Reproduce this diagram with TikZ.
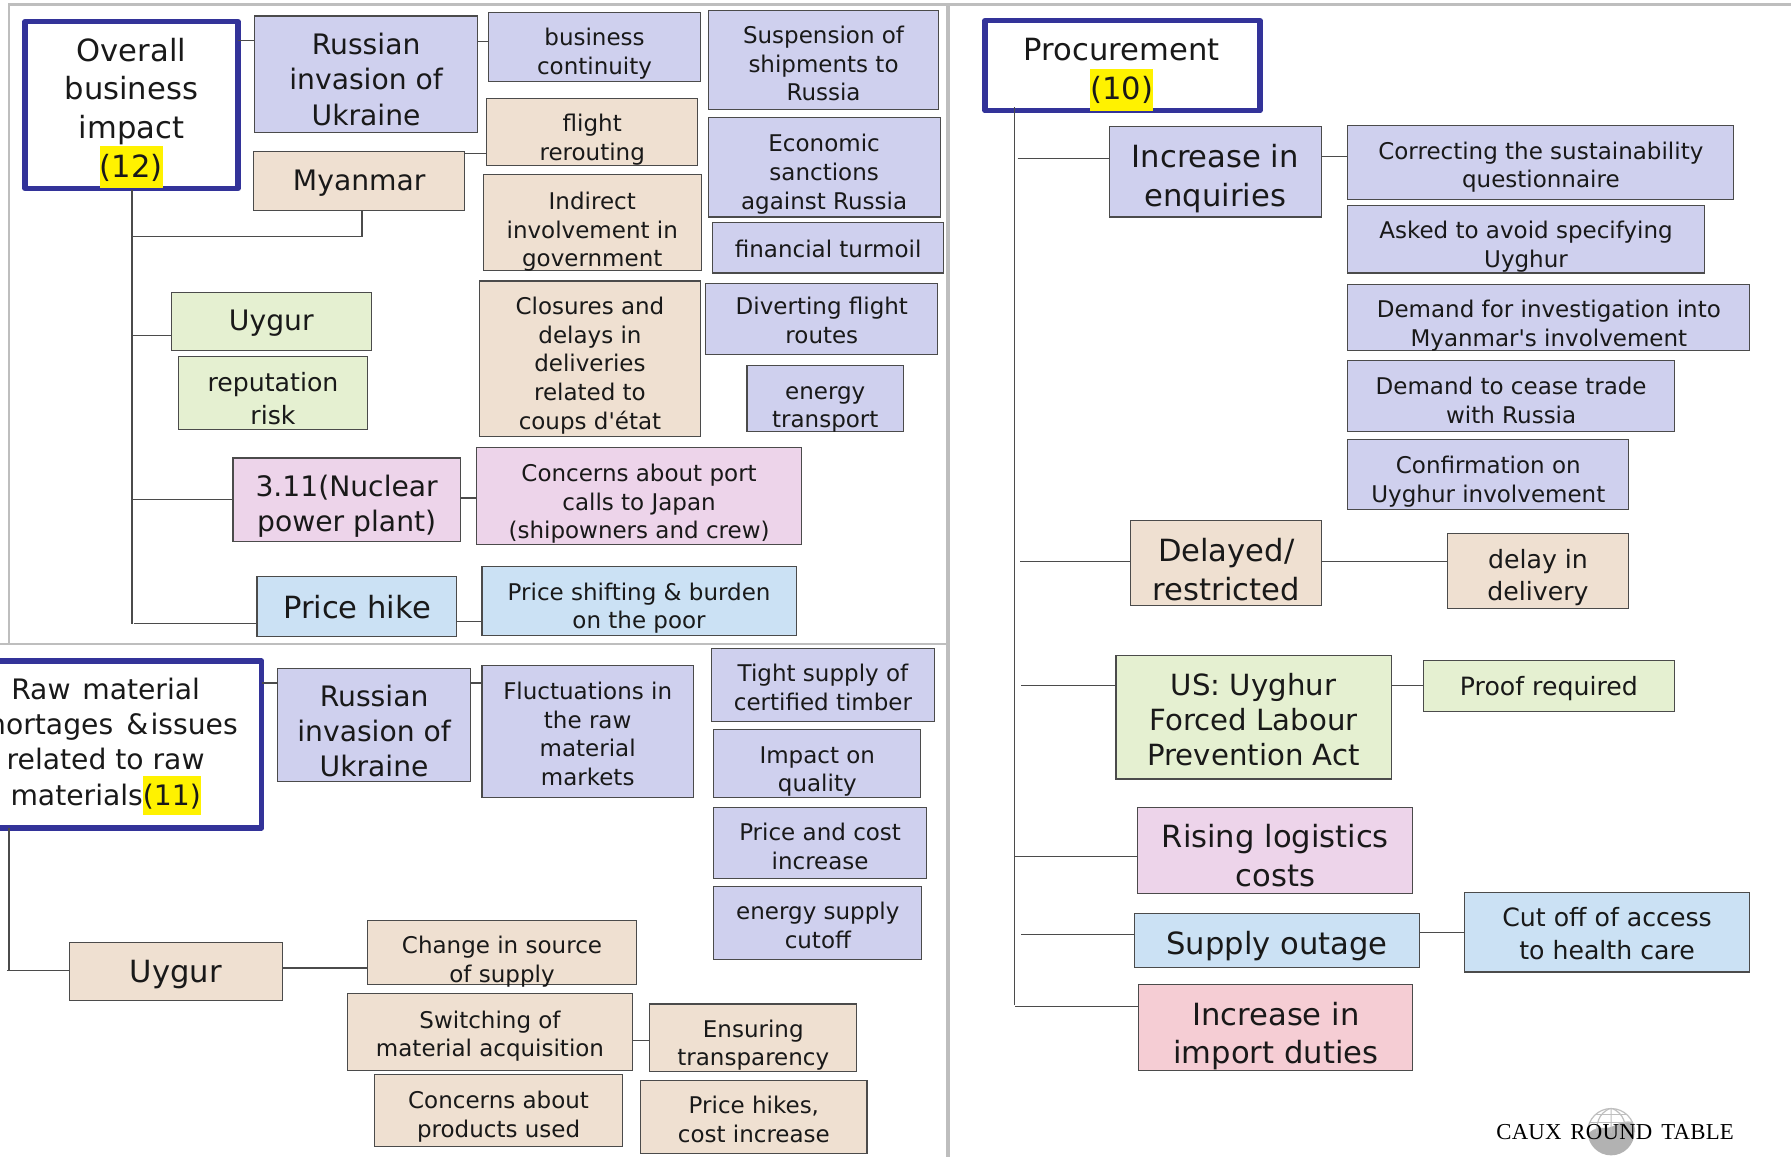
\documentclass[tikz,border=0pt]{standalone}
\usepackage{fontspec}
\setmainfont{DejaVu Sans}
\newfontfamily\logofont[LetterSpace=1,WordSpace=1.5]{Liberation Serif}
\usetikzlibrary{calc}
\definecolor{lav}{RGB}{207,208,238}
\definecolor{bei}{RGB}{239,224,209}
\definecolor{grn}{RGB}{229,240,209}
\definecolor{pnk}{RGB}{237,212,234}
\definecolor{blu}{RGB}{203,225,244}
\definecolor{red}{RGB}{245,205,212}
\definecolor{frm}{RGB}{51,51,153}
\definecolor{pan}{RGB}{190,190,190}
\definecolor{lin}{RGB}{75,75,75}
\newcommand{\mystrut}{\rule[-.25em]{0pt}{1.2em}}
\newcommand{\hl}[1]{{\setlength{\fboxsep}{0pt}\smash{\colorbox{yellow}{\rule[-.36em]{0pt}{1.38em}#1}}}}
\tikzset{
  x=0.5711pt,y=-0.5711pt,
  boxst/.style={draw=lin,line width=0.55pt,inner sep=0pt,outer sep=0pt},
  rootst/.style={draw=frm,line width=2.7pt,line join=round,inner sep=0pt,outer sep=0pt,fill=white},
  txt/.style={align=center,inner sep=0pt,text=black!90},
  link/.style={draw=lin,line width=0.6pt},
  panel/.style={draw=pan,line width=1.2pt},
  fs/.style={font=\fontsize{11.5pt}{14.3pt}\selectfont},
  fr/.style={font=\fontsize{12.6pt}{16.2pt}\selectfont},
  fm/.style={font=\fontsize{14.1pt}{17.6pt}\selectfont},
  fu/.style={font=\fontsize{14.6pt}{17.4pt}\selectfont},
  fl/.style={font=\fontsize{15.3pt}{19.4pt}\selectfont},
}
% name,x1,y1,x2,y2,box style,font style,text centre y,text
\newcommand{\mybox}[9]{%
  \node[boxst,#6,minimum width={(#4-#2)*0.5711pt},minimum height={(#5-#3)*0.5711pt}] (#1) at ({(#2+#4)/2},{(#3+#5)/2}) {};
  \node[txt,#7] (#1-t) at ({(#2+#4)/2},#8) {\mystrut #9\mystrut};
}
% horizontal connector between two nodes at height y
\newcommand{\hc}[3]{\draw[link] (#1.east |- 0,#3) -- (#2.west |- 0,#3);}
% branch from a free coordinate to a node
\newcommand{\br}[4]{\coordinate (#1) at (#2,#3); \draw[link] (#1) -- (#4.west |- #1);}
\begin{document}
\begin{tikzpicture}
\useasboundingbox (0,0) rectangle (1568,1013);
\fill[white] (0,0) rectangle (1568,1013);
% panels
\draw[panel] (8,564) -- (8,4) -- (1568,4);
\draw[panel] (0,564) -- (829,564);
\draw[pan,line width=1.7pt] (830,4) -- (830,1013);

% roots
\node[rootst,minimum width={186.5*0.5711pt},minimum height={146*0.5711pt}] (ovr) at (115.2,92) {};
\node[txt,fl] (ovr-t) at (115,95) {\mystrut Overall\\business\\impact\\\hl{(12)}\mystrut};
\node[rootst,minimum width={240*0.5711pt},minimum height={146.3*0.5711pt}] (raw) at (109,651.8) {};
\node[txt,fm] (raw-t) at (92.5,650) {\mystrut Raw\hspace{.1em} material\\shortages\hspace{.15em} \&\hspace{.08em}issues\\related to raw\\materials\hl{(11)}\mystrut};
\node[rootst,minimum width={240.6*0.5711pt},minimum height={79*0.5711pt}] (pro) at (982.7,57.5) {};
\node[txt,fl] (pro-t) at (982,61) {\mystrut Procurement\\\hl{(10)}\mystrut};

% upper left
\mybox{ru1}{223}{14}{418}{116}{fill=lav}{fm}{70}{Russian\\invasion of\\Ukraine}
\mybox{bc}{428}{11}{613}{71}{fill=lav}{fs}{45.5}{business\\continuity}
\mybox{sus}{620}{9}{822}{96}{fill=lav}{fs}{56}{Suspension of\\shipments to\\Russia}
\mybox{fli}{426}{86}{611}{145}{fill=bei}{fs}{121}{flight\\rerouting}
\mybox{mya}{222}{133}{407}{184}{fill=bei}{fm}{158}{Myanmar}
\mybox{eco}{620}{103}{823}{190}{fill=lav}{fs}{151}{Economic\\sanctions\\against Russia}
\mybox{ind}{423}{153}{614}{237}{fill=bei}{fs}{201.5}{Indirect\\involvement in\\government}
\mybox{fin}{624}{195}{826}{239}{fill=lav}{fs}{218}{financial turmoil}
\mybox{clo}{420}{246}{613}{382}{fill=bei}{fs}{318.5}{Closures and\\delays in\\deliveries\\related to\\coups d\textquotesingle état}
\mybox{div}{618}{248}{821}{310}{fill=lav}{fs}{281}{Diverting flight\\routes}
\mybox{ene}{654}{320}{791}{378}{fill=lav}{fs}{355}{energy\\transport}
\mybox{uy1}{150}{256}{325}{307}{fill=grn}{fm}{281}{Uygur}
\mybox{rep}{156}{312}{322}{376}{fill=grn}{fr}{349.5}{reputation\\risk}
\mybox{nuc}{204}{401}{403}{474}{fill=pnk}{fm}{441.5}{3.11(Nuclear\\power plant)}
\mybox{por}{417}{392}{702}{477}{fill=pnk}{fs}{439.5}{Concerns about port\\calls to Japan\\(shipowners and crew)}
\mybox{hik}{225}{505}{400}{557}{fill=blu}{fl}{532}{Price hike}
\mybox{shi}{422}{496}{697}{556}{fill=blu}{fs}{531}{Price shifting \& burden\\on the poor}

% lower left
\mybox{ru2}{243}{585}{412}{684}{fill=lav}{fm}{640.5}{Russian\\invasion of\\Ukraine}
\mybox{flu}{422}{583}{607}{698}{fill=lav}{fs}{643}{Fluctuations in\\the raw\\material\\markets}
\mybox{tig}{623}{568}{818}{632}{fill=lav}{fs}{602.5}{Tight supply of\\certified timber}
\mybox{imp}{625}{639}{806}{698}{fill=lav}{fs}{673.5}{Impact on\\quality}
\mybox{pri}{625}{707}{811}{769}{fill=lav}{fs}{741.5}{Price and cost\\increase}
\mybox{enc}{625}{776}{807}{840}{fill=lav}{fs}{810.5}{energy supply\\cutoff}
\mybox{uy2}{61}{825}{247}{876}{fill=bei}{fl}{851}{Uygur}
\mybox{cha}{322}{806}{557}{862}{fill=bei}{fs}{840.5}{Change in source\\of supply}
\mybox{swi}{304}{870}{554}{937}{fill=bei}{fs}{905.5}{Switching of\\material acquisition}
\mybox{ens}{569}{879}{750}{938}{fill=bei}{fs}{913.5}{Ensuring\\transparency}
\mybox{con}{328}{941}{545}{1004}{fill=bei}{fs}{976}{Concerns about\\products used}
\mybox{phk}{561}{946}{759}{1010}{fill=bei}{fs}{980.5}{Price hikes,\\cost increase}

% right
\mybox{inc}{971}{111}{1157}{190}{fill=lav}{fl}{154}{Increase in\\enquiries}
\mybox{cor}{1180}{110}{1518}{175}{fill=lav}{fs}{145}{Correcting the sustainability\\questionnaire}
\mybox{ask}{1180}{180}{1492}{239}{fill=lav}{fs}{214.5}{Asked to avoid specifying\\Uyghur}
\mybox{dem}{1180}{249}{1532}{307}{fill=lav}{fs}{283.5}{Demand for investigation into\\Myanmar\textquotesingle s involvement}
\mybox{ces}{1180}{316}{1466}{378}{fill=lav}{fs}{351}{Demand to cease trade\\with Russia}
\mybox{cnf}{1180}{385}{1426}{446}{fill=lav}{fs}{420}{Confirmation on\\Uyghur involvement}
\mybox{del}{990}{456}{1157}{530}{fill=bei}{fl}{499}{Delayed/\\restricted}
\mybox{dld}{1267}{467}{1426}{533}{fill=bei}{fr}{504}{delay in\\delivery}
\mybox{usa}{977}{574}{1218}{682}{fill=grn}{fu}{630.5}{US: Uyghur\\Forced Labour\\Prevention Act}
\mybox{prf}{1246}{578}{1466}{623}{fill=grn}{fr}{601}{Proof required}
\mybox{ris}{996}{707}{1237}{782}{fill=pnk}{fl}{750}{Rising logistics\\costs}
\mybox{sup}{993}{800}{1243}{847}{fill=blu}{fl}{826}{Supply outage}
\mybox{cut}{1282}{781}{1532}{851}{fill=blu}{fr}{818}{Cut off of access\\to health care}
\mybox{dut}{997}{862}{1237}{937}{fill=red}{fl}{905}{Increase in\\import duties}

% connectors upper left
\hc{ovr}{ru1}{35.3}
\hc{ru1}{bc}{36}
\hc{mya}{fli}{134.5}
\draw[link] (115.5,166) coordinate (tr1) -- (115.5,546) coordinate (tr1e);
\draw[link] (tr1 |- 0,207) -| (mya.south -| 317,0);
\br{b1}{116}{294}{uy1}
\br{b2}{116}{437.5}{nuc}
\br{b3}{117}{546}{hik}
\hc{nuc}{por}{436}
\hc{hik}{shi}{544}

% connectors lower left
\hc{raw}{ru2}{598}
\hc{ru2}{flu}{598}
\draw[link] (7.9,725) coordinate (tr2) -- (7.9,849.5);
\br{b4}{6}{849.5}{uy2}
\hc{uy2}{cha}{847.5}
\hc{swi}{ens}{911}

% connectors right
\draw[link] (888.3,94) coordinate (tr3) -- (888.3,880);
\br{b5}{891}{139}{inc}
\hc{inc}{cor}{137}
\br{b6}{893}{491.5}{del}
\hc{del}{dld}{491.5}
\br{b7}{894}{600}{usa}
\hc{usa}{prf}{600}
\br{b8}{889}{749.5}{ris}
\br{b9}{894}{818}{sup}
\hc{sup}{cut}{816.5}
\br{b10}{889}{881}{dut}

% logo
\begin{scope}
\clip (1410.5,991) circle (20.5);
\fill[white] (1390,970) rectangle (1431,1012);
\fill[black!30] (1388,995) .. controls (1398,983) and (1404,990) .. (1412,986) .. controls (1420,982) and (1426,980) .. (1433,984) -- (1433,1013) -- (1388,1013) -- cycle;
\draw[black!25,line width=0.6pt] (1390,983) -- (1431,983) (1390,976) -- (1431,976);
\draw[black!25,line width=0.6pt] (1410.5,970) -- (1410.5,992) (1410.5,970) .. controls (1398,975) and (1398,985) .. (1398,992) (1410.5,970) .. controls (1423,975) and (1423,985) .. (1423,992);
\end{scope}
\draw[black!25,line width=0.6pt] (1410.5,991) ++(180:20.5) arc (180:0:20.5 and -20.5);
\node[inner sep=0pt,anchor=base,font=\logofont\fontsize{11.4pt}{12pt}\selectfont] (logo) at (1414,998) {CAUX ROUND TABLE};
\end{tikzpicture}
\end{document}
